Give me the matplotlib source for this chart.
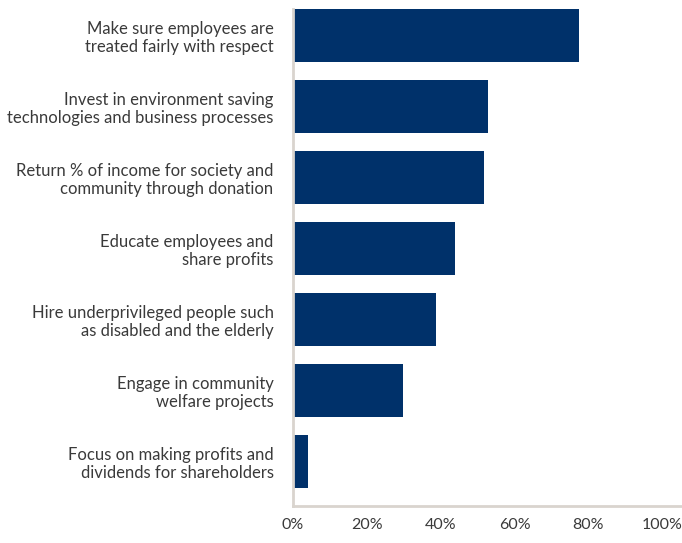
import matplotlib
matplotlib.use("Agg")
import matplotlib.pyplot as plt
from matplotlib.ticker import PercentFormatter

# survey responses, top to bottom
actions = [
    "Make sure employees are\ntreated fairly with respect",
    "Invest in environment saving\ntechnologies and business processes",
    "Return % of income for society and\ncommunity through donation",
    "Educate employees and\nshare profits",
    "Hire underprivileged people such\nas disabled and the elderly",
    "Engage in community\nwelfare projects",
    "Focus on making profits and\ndividends for shareholders",
]
shares = [77.5, 52.8, 51.7, 43.9, 38.8, 29.8, 4.1]
ticks = [0, 20, 40, 60, 80, 100]

BAR = "#00316a"
AXIS = "#d9d4ce"
TEXT = "#3a3a3a"

plt.rcParams["font.family"] = ["Lato", "DejaVu Sans"]

fig = plt.figure(figsize=(6.82, 5.43), dpi=100)
ax = fig.add_axes([293 / 682, 1 - 505.7 / 543, 1 - 293 / 682, (505.7 - 9) / 543])

pos = list(range(len(actions)))[::-1]
ax.barh(pos, shares, height=0.75, color=BAR)

ax.set_ylim(-0.625, 6.375)
ax.set_xlim(0, 105.4)
ax.set_yticks(pos)
ax.set_yticklabels(actions, fontsize=12, color=TEXT, linespacing=1.15)
ax.set_xticks(ticks)
ax.xaxis.set_major_formatter(PercentFormatter(decimals=0))
ax.tick_params(axis="x", length=0, pad=9, labelsize=11.5, labelcolor=TEXT)
ax.tick_params(axis="y", length=0, pad=14)

for side in ("top", "right"):
    ax.spines[side].set_visible(False)
for side in ("left", "bottom"):
    ax.spines[side].set_color(AXIS)
    ax.spines[side].set_linewidth(2)

fig.savefig("out.png", dpi=100)
